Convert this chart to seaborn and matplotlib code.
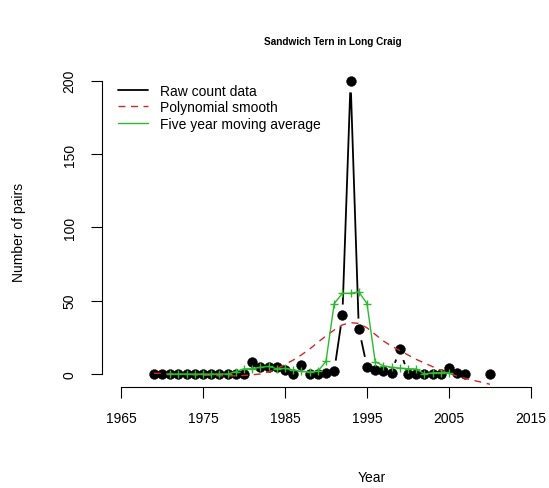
import matplotlib
matplotlib.use("Agg")
import matplotlib.pyplot as plt
from matplotlib.lines import Line2D
import numpy as np
import pandas as pd
import seaborn as sns

# raw counts (no counts for 2008, 2009)
years = list(range(1969, 2008)) + [2010]
pairs = [0, 0, 0, 0, 0, 0, 0, 0, 0, 0, 0, 0,          # 1969-1980
         8, 5, 5, 5, 3, 0, 6, 0, 0, 1, 2,             # 1981-1991
         40, 200, 31, 5, 3, 2, 1, 17,                 # 1992-1999
         0, 0, 0, 0, 0, 4, 1, 0,                      # 2000-2007
         0]                                           # 2010
# line pieces: the gap 2008-2009 splits the raw line
piece = [1] * 39 + [2]

# polynomial smooth, read at the same years
smooth = [0.5, 0.5, 0.3, 0.0, -0.3, -0.5, -0.8, -1.0, -1.2, -1.3, -1.2, -1.0,
          -0.5, 0.0, 1.5, 3.5, 6.5, 9.5, 13.0, 17.0, 21.5, 26.0, 30.0,
          33.5, 35.0, 34.5, 31.5, 27.0, 22.5, 19.0, 16.0,
          13.0, 10.0, 7.5, 5.0, 2.5, 0.5, -1.5, -3.0,
          -7.0]

# five year moving average
ma_years = list(range(1971, 2006))
ma_vals = [0, 0, 0, 0, 0, 0, 0, 0, 1.6, 3.5,     # 1971-1980
           3.6, 4.6, 5.2, 3.6, 3.8, 2.8, 1.8, 1.4, 1.8, 8.6,   # 1981-1990
           48, 55, 55, 56, 48, 8.4, 5.6, 4.6, 4.0, 3.6,        # 1991-2000
           3.4, 0, 0.8, 1.0, 1.0]                              # 2001-2005

raw_df = pd.DataFrame({"Year": years, "Pairs": pairs, "Smooth": smooth,
                       "piece": piece})
ma_df = pd.DataFrame({"Year": ma_years, "MA": ma_vals})

sns.set_style("white")
plt.rcParams["font.family"] = ["Liberation Sans", "DejaVu Sans"]
plt.rcParams["text.color"] = "black"
plt.rcParams["xtick.color"] = "black"
plt.rcParams["ytick.color"] = "black"

W, H = 549, 489
fig = plt.figure(figsize=(W / 100, H / 100), dpi=100)
ax = fig.add_axes([101.7 / W, 101 / H, 445.7 / W, 321 / H])

green = "#2fb82f"
red = "#d02828"

# raw line with R style gaps round the points
sns.lineplot(data=raw_df, x="Year", y="Pairs", units="piece", color="black",
             lw=1.3, estimator=None, ax=ax, zorder=1)
ax.plot(raw_df["Year"], raw_df["Pairs"], "o", ms=15.8, color="white",
        mec="none", zorder=1.5)
sns.scatterplot(data=raw_df, x="Year", y="Pairs", color="black", s=50,
                edgecolor="black", linewidth=0.3, ax=ax, zorder=3)

sns.lineplot(data=raw_df, x="Year", y="Smooth", color=red, lw=1.0,
             linestyle=(0, (5, 4)), estimator=None, ax=ax, zorder=4)

sns.lineplot(data=ma_df, x="Year", y="MA", color=green, lw=1.0,
             estimator=None, ax=ax, zorder=5)
sns.scatterplot(data=ma_df, x="Year", y="MA", color=green, marker="+",
                s=30, linewidth=1.0, ax=ax, zorder=6)

ax.set_xlim(1962.65, 2017)
ax.set_ylim(-8.86, 210)
ax.set_xticks([1965, 1975, 1985, 1995, 2005, 2015])
ax.set_yticks([0, 50, 100, 150, 200])
ax.set_yticklabels(["0", "50", "100", "150", "200"], rotation=90, va="center")
ax.tick_params(axis="both", length=8, width=0.8, color="black",
               labelcolor="black", direction="out", labelsize=10, pad=9,
               bottom=True, left=True)
ax.tick_params(axis="y", pad=10)
for s in ["top", "right"]:
    ax.spines[s].set_visible(False)
for s in ["left", "bottom"]:
    ax.spines[s].set_color("black")
    ax.spines[s].set_linewidth(0.8)
ax.spines["bottom"].set_bounds(1965, 2015)
ax.spines["left"].set_bounds(0, 200)
ax.set_xlabel("")
ax.set_ylabel("")

fig.text(19 / W, 1 - 232 / H, "Number of pairs", rotation=90,
         ha="center", va="center", fontsize=10)
fig.text(372 / W, 1 - 478 / H, "Year", ha="center", va="center",
         fontsize=10)
fig.text(333 / W, 1 - 42 / H, "Sandwich Tern in Long Craig", ha="center",
         va="center", fontsize=7.2, fontweight="bold")

handles = [Line2D([], [], color="black", lw=1.3),
           Line2D([], [], color=red, lw=1.0, linestyle=(0, (5, 4))),
           Line2D([], [], color=green, lw=1.0)]
labels = ["Raw count data", "Polynomial smooth", "Five year moving average"]
ax.legend(handles, labels, loc="upper left", frameon=False,
          bbox_to_anchor=(118 / W, 1 - 84.5 / H),
          bbox_transform=fig.transFigure, borderaxespad=0, borderpad=0,
          handlelength=2.16, handletextpad=0.86, labelspacing=0.2,
          fontsize=10)

fig.savefig("out.png", dpi=100)
